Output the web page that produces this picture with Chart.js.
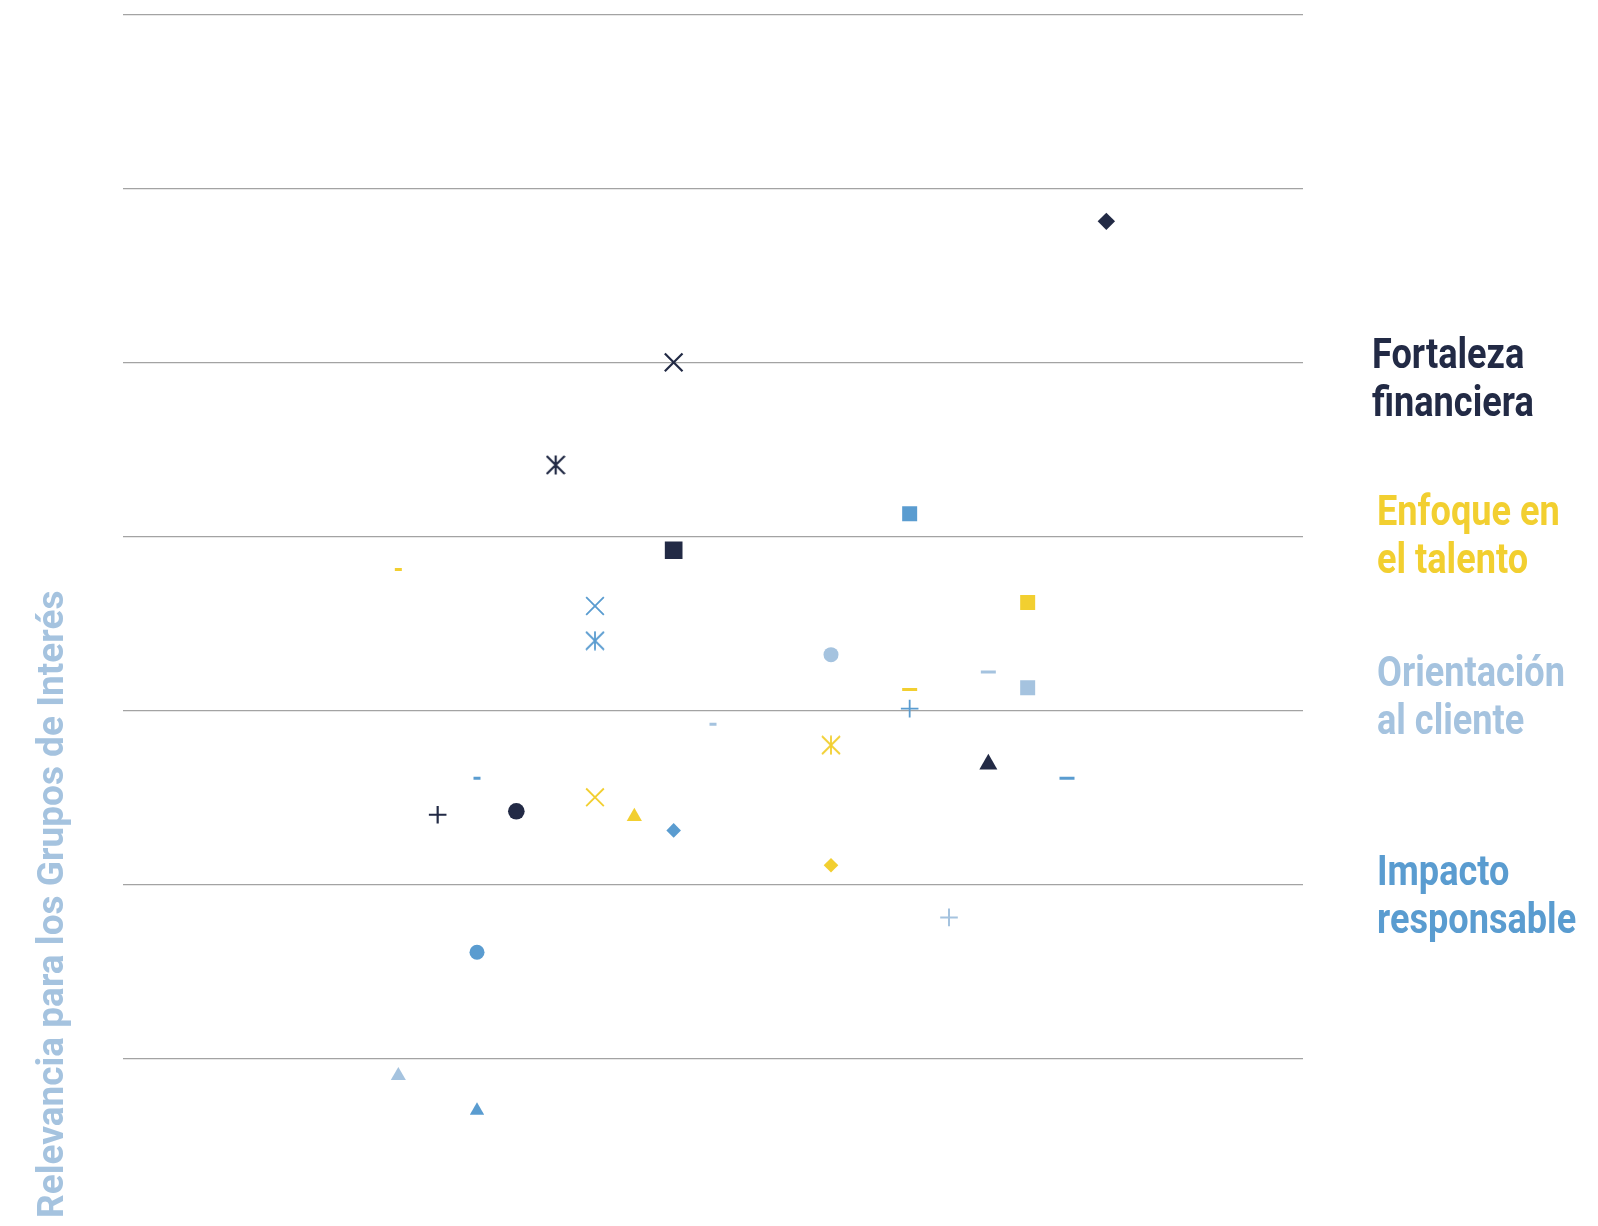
<!DOCTYPE html>
<html>
<head>
<meta charset="utf-8">
<script src="https://cdn.jsdelivr.net/npm/chart.js@4.4.1/dist/chart.umd.min.js"></script>
<style>
html,body{margin:0;padding:0;background:#fff;overflow:hidden}
#wrap{position:relative;width:1598px;height:1226px}
#myChart{position:absolute;left:0;top:0}
.lbl{position:absolute;font-family:Roboto,sans-serif;font-weight:700;font-size:43px;line-height:48px;white-space:nowrap;transform:scaleX(0.84);transform-origin:0 0}
</style>
</head>
<body>
<div id="wrap">
  <canvas id="myChart" width="1598" height="1226"></canvas>
  <div class="lbl" id="lab0" style="left:1372px;top:329px">Fortaleza<br>financiera</div>
  <div class="lbl" id="lab1" style="left:1377px;top:486px">Enfoque en<br>el talento</div>
  <div class="lbl" id="lab2" style="left:1377px;top:647px">Orientación<br>al cliente</div>
  <div class="lbl" id="lab3" style="left:1377px;top:846px">Impacto<br>responsable</div>
</div>
<script>
var categories=['Fortaleza financiera','Enfoque en el talento','Orientación al cliente','Impacto responsable']
var colors=['#222a45','#f2cf30','#a5c3df','#5a9cd0']
var yTitle='Relevancia para los Grupos de Interés'

// values (x: columns, y: rows between grid lines)
var finX=[25,14,11,14,8,10,22]
var finY=[5.81,5.00,4.41,3.92,2.40,2.42,2.69]
var talX=[7,23,20,18,12,13,18]
var talY=[3.81,3.62,3.12,2.80,2.50,2.39,2.11]
var cliX=[18,22,23,15,21,7]
var cliY=[3.32,3.22,3.13,2.92,1.81,0.90]
var impX=[20,12,12,20,9,24,14,9,9]
var impY=[4.13,3.60,3.40,3.01,2.61,2.61,2.31,1.61,0.70]

// marker styles
var finShape=['rectRot','crossRot','asterisk','rect','cross','circle','triangle']
var finSize=[8.7,12.5,9,12.5,8.8,8.3,10.4]
var finLine=[0,2.2,0,0,2.2,0,0]
var talShape=['line','rect','line','asterisk','crossRot','triangle','rectRot']
var talSize=[3.5,10.6,7.5,9,12.5,8.8,7.3]
var talLine=[3,0,3,0,1.8,0,0]
var cliShape=['circle','line','rect','line','cross','triangle']
var cliSize=[7.5,7.5,10.6,3.5,8.8,8.7]
var cliLine=[0,3,0,3,2,0]
var impShape=['rect','crossRot','asterisk','cross','line','line','rectRot','circle','triangle']
var impSize=[10.6,12.5,9,8.8,3.5,7.5,7.3,7.5,8.3]
var impLine=[0,1.8,0,1.8,3,3,0,0,0]

document.getElementById('lab0').style.color=colors[0]
document.getElementById('lab1').style.color=colors[1]
document.getElementById('lab2').style.color=colors[2]
document.getElementById('lab3').style.color=colors[3]

// six-armed star: X plus a vertical bar
function asterisk(color,w){
    var c=document.createElement('canvas')
    c.width=20;c.height=20
    var g=c.getContext('2d')
    g.strokeStyle=color
    g.lineWidth=w
    g.beginPath()
    g.moveTo(1,1);g.lineTo(19,19)
    g.moveTo(19,1);g.lineTo(1,19)
    g.moveTo(10,0.5);g.lineTo(10,19.5)
    g.stroke()
    return c
}

function makeSet(i,xs,ys,shapes,sizes,lines,lw){
    var star=asterisk(colors[i],lw)
    return {
        label:categories[i],
        data:xs.map(function(x,k){return {x:x,y:ys[k]}}),
        pointStyle:shapes.map(function(s){return s==='asterisk'?star:s}),
        pointRadius:sizes,
        pointHoverRadius:sizes,
        pointBorderWidth:lines,
        pointHoverBorderWidth:lines,
        pointBackgroundColor:colors[i],
        pointBorderColor:colors[i],
        showLine:false
    }
}

var ctx=document.getElementById('myChart').getContext('2d')
var chart=new Chart(ctx,{
    type:'scatter',
    data:{
        datasets:[
            makeSet(0,finX,finY,finShape,finSize,finLine,2.2),
            makeSet(1,talX,talY,talShape,talSize,talLine,1.8),
            makeSet(2,cliX,cliY,cliShape,cliSize,cliLine,1.8),
            makeSet(3,impX,impY,impShape,impSize,impLine,1.8)
        ]
    },
    options:{
        responsive:false,
        animation:false,
        layout:{autoPadding:false,padding:{top:14.3,right:295,bottom:8,left:0}},
        plugins:{legend:{display:false},tooltip:{enabled:false}},
        scales:{
            x:{type:'linear',min:0,max:30,display:false},
            y:{
                type:'linear',min:0.0825,max:7,
                afterFit:function(s){s.width=123},
                afterBuildTicks:function(s){s.ticks=s.ticks.filter(function(t){return Number.isInteger(t.value)})},
                ticks:{display:false,stepSize:1},
                border:{display:false},
                grid:{color:'#a3a3a3',lineWidth:1.3,drawTicks:false},
                title:{
                    display:true,
                    text:yTitle,
                    align:'start',
                    color:colors[2],
                    font:{family:'Roboto',weight:'bold',size:37},
                    padding:{top:32,bottom:0}
                }
            }
        }
    }
})
</script>
</body>
</html>
